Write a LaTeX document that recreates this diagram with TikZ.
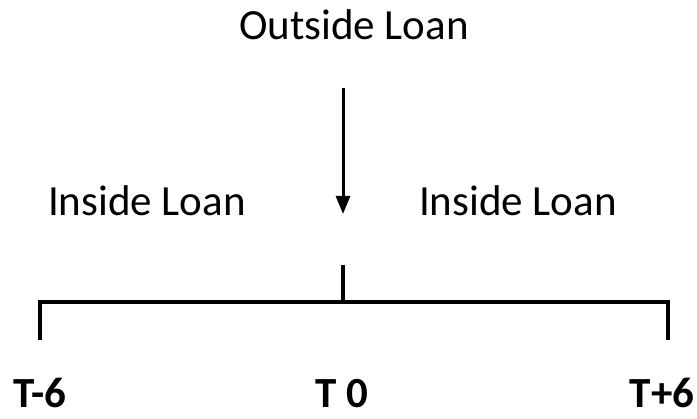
\documentclass[tikz,border=0pt]{standalone}
\usepackage{fontspec}
\setmainfont{Carlito}
\usetikzlibrary{arrows.meta, positioning}
\tikzset{
    loantext/.style={font=\fontsize{43}{50}\selectfont, anchor=base, inner sep=0pt},
    ticktext/.style={font=\fontsize{43}{50}\selectfont\bfseries, anchor=base, inner sep=0pt, text depth=0pt},
    axis/.style={draw, line width=4pt},
    arrow/.style={line width=3pt, -{Triangle[length=18pt,width=14pt]}}
}
\begin{document}
\begin{tikzpicture}[x=1pt, y=-1pt]
        \useasboundingbox (0,0) rectangle (697,419);
        \node (outside) [loantext] at (354,40) {Outside Loan};
        \node (insideL) [loantext] at (147,216) {Inside Loan};
        \node (insideR) [loantext] at (518,216) {Inside Loan};
        \node (tm6) [ticktext] at (40,408) {T-6};
        \node (t0) [ticktext] at (342,408) {T 0};
        \node (tp6) [ticktext] at (662,408) {T+6};

        \coordinate (arrtop) at (343,88);
        \coordinate (arrend) at (343,214);
        \coordinate (stub) at (343,265);
        \coordinate (mid) at (343,302);
        \coordinate (left) at (40,302);
        \coordinate (right) at (668,302);
        \coordinate (leftend) at (40,340);
        \coordinate (rightend) at (668,340);

        \draw [arrow] (arrtop) -- (arrend);
        \draw [axis] (leftend) -- (left) -- (right) -- (rightend);
        \draw [axis] (stub) -- (mid);
    \end{tikzpicture}
\end{document}
